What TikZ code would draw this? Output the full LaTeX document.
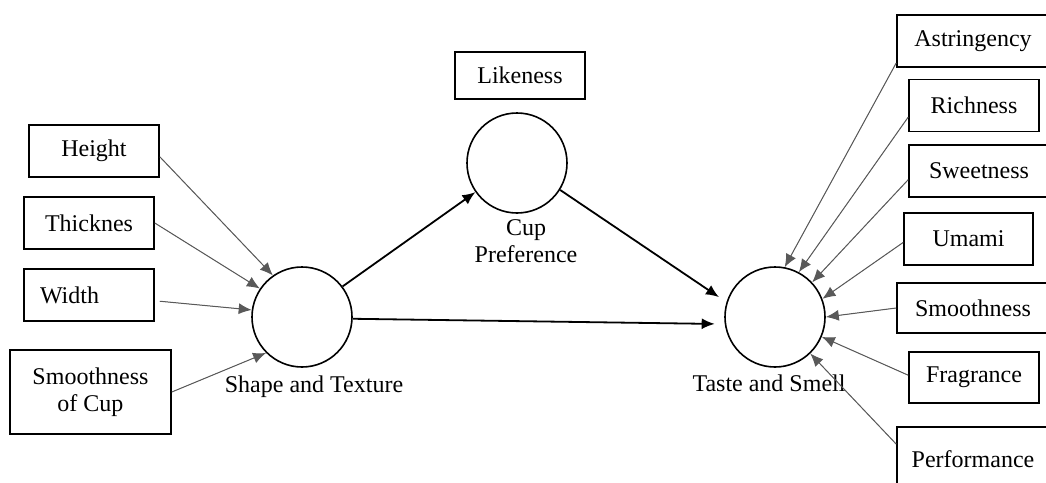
\documentclass[tikz,border=0pt]{standalone}
\usepackage{fontspec}
\setmainfont{Liberation Serif}
\usetikzlibrary{arrows.meta}

\begin{document}
\begin{tikzpicture}[x=1pt,y=-1pt,
	box/.style={draw,line width=1.6pt,minimum height=52pt,inner sep=0pt,font=\fontsize{24}{27}\selectfont},
	latent/.style={draw,circle,line width=1.6pt,minimum size=100pt,inner sep=0pt},
	lbl/.style={font=\fontsize{24}{27}\selectfont,align=center},
	ind/.style={-{Latex[length=13pt,width=11pt]},line width=1pt,draw=black!65,fill=black},
	effect/.style={-{Latex[length=13pt,width=11pt]},line width=1.8pt}]
	\useasboundingbox (0,0) rectangle (1046,482);
	% indicators, left
	\node[box,minimum width=130pt] (height) at (94,151) {Height};
	\node[box,minimum width=130pt] (thick) at (89,223) {Thicknes};
	\node[box,minimum width=130pt,text width=98pt,inner xsep=16pt,align=left] (width) at (89,295) {Width};
	\node[box,minimum width=161pt,minimum height=84pt,align=center] (smoothcup) at (90.5,392) {Smoothness\\of Cup};
	\node[box,minimum width=130pt,minimum height=47pt] (like) at (520,75.5) {Likeness};
	% latent variables
	\node[latent] (shape) at (302,317) {};
	\node[latent] (cup) at (517,163) {};
	\node[latent] (taste) at (775,317) {};
	\node[lbl] (shapelbl) at (314,387) {Shape and Texture};
	\node[lbl] (cuplbl) at (526,241) {Cup\\Preference};
	\node[lbl] (tastelbl) at (769,383) {Taste and Smell};
	% indicators, right
	\foreach \n/\t/\x/\y/\w/\h in {astr/Astringency/973/41/152/52,rich/Richness/974/105.5/130/52,sweet/Sweetness/979/171/140/52,umami/Umami/968.5/239/129/52,smooth/Smoothness/973/308/152/50,frag/Fragrance/974/377.5/130/51,perf/Performance/973/459/152/64}
		\node[box,minimum width=\w pt,minimum height=\h pt] (\n) at (\x,\y) {\t};
	\draw[ind] (height.-5) -- (shape.125);
	\draw[ind] (thick.east) -- (shape.146);
	\draw[ind,shorten <=5pt] (width.-5) -- (shape.172);
	\draw[ind] (smoothcup.east) -- (shape.225);
	\foreach \n/\a/\b in {astr/196/79,rich/190/62,sweet/187/43,umami/183.5/21,smooth/180/0,frag/178/-23,perf/169/-46}
		\draw[ind] (\n.\a) -- (taste.\b);
	% paths
	\draw[effect] (shape.37) -- (cup.215);
	\draw[effect,shorten >=9pt] (cup.-32) -- (taste.163);
	\draw[effect,shorten >=10pt] (shape.-2) -- (taste.188);
\end{tikzpicture}
\end{document}
